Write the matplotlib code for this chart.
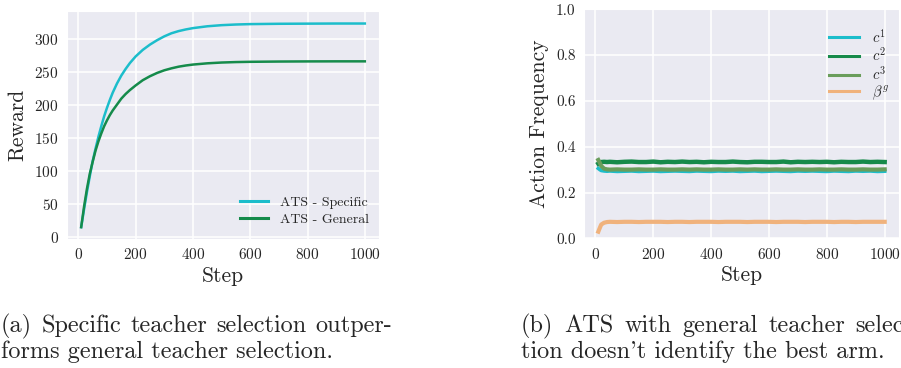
import matplotlib
matplotlib.use('Agg')
import matplotlib.pyplot as plt

# --- data ---
steps_a = [10, 20, 30, 40, 50, 60, 70, 80, 90, 100, 110, 120, 135, 150, 165, 180,
           200, 225, 250, 275, 300, 325, 350, 375, 400, 450, 500, 550, 600, 700,
           800, 900, 1000]
reward_specific = [15, 42, 68, 92, 115, 134, 152, 168, 183, 196, 208, 219, 233, 245,
                   255, 264, 274, 284, 292, 298.7, 304.5, 309.2, 312.5, 315, 317,
                   319.8, 321.5, 322.5, 323.1, 323.6, 323.8, 324, 324]
reward_general = [15, 46, 73, 96, 114, 131, 145, 157, 168, 177, 185, 192, 201, 210,
                  217, 223, 230, 238, 244, 249, 253, 256, 258.5, 260.3, 261.7, 263.6,
                  264.8, 265.5, 265.9, 266.3, 266.5, 266.6, 266.6]

steps_b = [10, 15, 20, 30, 40] + list(range(50, 1001, 25))
freq_c1 = [0.305, 0.300, 0.296, 0.294, 0.293,
           0.294, 0.292, 0.293, 0.294, 0.292, 0.293, 0.294, 0.292, 0.293, 0.294,
           0.293, 0.292, 0.294, 0.293, 0.292, 0.294, 0.293, 0.294, 0.292, 0.293,
           0.294, 0.292, 0.293, 0.294, 0.293, 0.292, 0.294, 0.293, 0.294, 0.293,
           0.292, 0.294, 0.293, 0.292, 0.294, 0.293, 0.294, 0.292, 0.293]
freq_c2 = [0.326, 0.330, 0.333, 0.334, 0.333,
           0.334, 0.332, 0.334, 0.335, 0.333, 0.333, 0.335, 0.332, 0.334, 0.333,
           0.335, 0.333, 0.334, 0.332, 0.334, 0.333, 0.333, 0.335, 0.333, 0.332,
           0.334, 0.334, 0.333, 0.333, 0.335, 0.332, 0.334, 0.333, 0.334, 0.333,
           0.334, 0.332, 0.334, 0.333, 0.333, 0.335, 0.333, 0.334, 0.333]
freq_c3 = [0.342, 0.330, 0.316, 0.304, 0.301,
           0.300, 0.301, 0.300, 0.300, 0.301, 0.300, 0.300, 0.301, 0.300, 0.300,
           0.301, 0.300, 0.301, 0.300, 0.300, 0.301, 0.300, 0.300, 0.301, 0.300,
           0.301, 0.300, 0.300, 0.301, 0.300, 0.300, 0.301, 0.300, 0.300, 0.301,
           0.300, 0.300, 0.301, 0.300, 0.300, 0.301, 0.300, 0.300, 0.301]
freq_beta = [0.029, 0.045, 0.060, 0.068, 0.071,
             0.072, 0.071, 0.072, 0.072, 0.071, 0.072, 0.072, 0.072, 0.071, 0.072,
             0.072, 0.071, 0.072, 0.072, 0.072, 0.071, 0.072, 0.072, 0.072, 0.071,
             0.072, 0.072, 0.072, 0.071, 0.072, 0.072, 0.072, 0.071, 0.072, 0.072,
             0.072, 0.071, 0.072, 0.072, 0.071, 0.072, 0.072, 0.072, 0.072]

cap_a = ["(a) Specific teacher selection outper-", "forms general teacher selection."]
cap_b = ["(b) ATS with general teacher selec-", "tion doesn't identify the best arm."]

# --- style: seaborn darkgrid look with computer modern text ---
plt.rcParams['font.family'] = 'serif'
plt.rcParams['font.serif'] = ['cmr10']
plt.rcParams['mathtext.fontset'] = 'cm'
plt.rcParams['axes.formatter.use_mathtext'] = True
plt.rcParams['axes.facecolor'] = '#EAEAF2'
plt.rcParams['axes.edgecolor'] = 'white'
plt.rcParams['axes.grid'] = True
plt.rcParams['grid.color'] = 'white'
plt.rcParams['grid.linewidth'] = 1.1
plt.rcParams['axes.axisbelow'] = True
plt.rcParams['xtick.major.size'] = 0
plt.rcParams['ytick.major.size'] = 0
plt.rcParams['xtick.color'] = '#262626'
plt.rcParams['ytick.color'] = '#262626'
plt.rcParams['text.color'] = '#262626'
plt.rcParams['axes.labelcolor'] = '#262626'

fig = plt.figure(figsize=(9.01, 3.68), dpi=100)
W, H = 901.0, 368.0

ax1 = fig.add_axes([67 / W, 1 - 239 / H, 312 / W, 228 / H])
ax2 = fig.add_axes([584 / W, 1 - 238.3 / H, 315 / W, 229 / H])

ax1.plot(steps_a, reward_specific, color='#1cbdcb', lw=1.8, label='ATS - Specific')
ax1.plot(steps_a, reward_general, color='#158b4b', lw=1.8, label='ATS - General')
ax1.set_xlim(-39.5, 1049.5)
ax1.set_ylim(-3, 343)
ax1.set_xticks([0, 200, 400, 600, 800, 1000])
ax1.set_yticks([0, 50, 100, 150, 200, 250, 300])
ax1.set_xlabel('Step', fontsize=15.5, labelpad=3)
ax1.set_ylabel('Reward', fontsize=15.5, labelpad=5)
ax1.tick_params(labelsize=11, pad=6)
leg1 = ax1.legend(loc='lower right', bbox_to_anchor=(1.0, 0.015), fontsize=10,
                  frameon=False, handlelength=2.0, handletextpad=0.9,
                  labelspacing=0.3, borderaxespad=0.3)

ax2.plot(steps_b, freq_c1, color='#1cbdcb', lw=2.6, label='$c^1$')
ax2.plot(steps_b, freq_c2, color='#168a4a', lw=3.2, label='$c^2$')
ax2.plot(steps_b, freq_c3, color='#6a9d5b', lw=3.0, label='$c^3$')
ax2.plot(steps_b, freq_beta, color='#f0b27c', lw=3.0, label=r'$\beta^g$')
ax2.set_xlim(-39.5, 1049.5)
ax2.set_ylim(0, 1.0)
ax2.set_xticks([0, 200, 400, 600, 800, 1000])
ax2.set_yticks([0.0, 0.2, 0.4, 0.6, 0.8, 1.0])
ax2.set_yticklabels(['0.0', '0.2', '0.4', '0.6', '0.8', '1.0'])
ax2.set_xlabel('Step', fontsize=15.5, labelpad=3)
ax2.set_ylabel('Action Frequency', fontsize=15.5, labelpad=5)
ax2.tick_params(labelsize=11, pad=6)
leg2 = ax2.legend(loc='upper right', bbox_to_anchor=(1.0, 0.965), fontsize=10.5,
                  frameon=False, handlelength=2.0, handletextpad=0.9,
                  labelspacing=0.05, borderaxespad=0.3)
for h in list(leg1.get_lines()) + list(leg2.get_lines()):
    h.set_linewidth(2.2)


def justified(line, x0, x1, y, size):
    # first caption lines are justified in the paper: spread the words to x0..x1
    rend = fig.canvas.get_renderer()
    words = line.split(' ')
    texts = [fig.text(0, 1 - y / H, w, fontsize=size, va='center', ha='left')
             for w in words]
    widths = [t.get_window_extent(rend).width for t in texts]
    gap = (x1 - x0 - sum(widths)) / (len(words) - 1)
    x = x0
    for t, w in zip(texts, widths):
        t.set_x(x / W)
        x += w + gap


cap_size = 17.5
justified(cap_a[0], 1, 392, 326, cap_size)
justified(cap_b[0], 521, 912, 326, cap_size)
fig.text(1 / W, 1 - 352 / H, cap_a[1], fontsize=cap_size, va='center', ha='left')
fig.text(521 / W, 1 - 352 / H, cap_b[1], fontsize=cap_size, va='center', ha='left')

fig.savefig('out.png', dpi=100)
